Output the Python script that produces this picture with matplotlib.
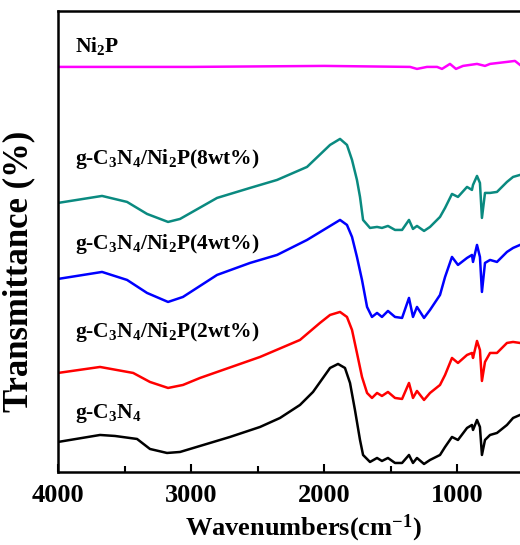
import matplotlib
matplotlib.use('Agg')
import matplotlib.pyplot as plt
from matplotlib.ticker import MultipleLocator

plt.rcParams['font.family'] = 'Liberation Serif'
plt.rcParams['font.weight'] = 'bold'
plt.rcParams['mathtext.fontset'] = 'custom'
plt.rcParams['mathtext.rm'] = 'Liberation Serif:bold'
plt.rcParams['mathtext.bf'] = 'Liberation Serif:bold'
plt.rcParams['mathtext.it'] = 'Liberation Serif:bold'
plt.rcParams['mathtext.default'] = 'rm'

# --- spectra (wavenumber, transmittance in arbitrary offset units) ---
wn_ni2p = [4000, 3000, 2000, 1355, 1303, 1228, 1152, 1115, 1055, 1010, 957, 852, 792, 754, 627, 567, 529]
t_ni2p = [405, 405, 406, 405, 403, 405, 405, 403, 408, 403, 406, 408, 406, 408, 410, 411, 407]

wn_8 = [4000, 3669, 3481, 3331, 3173, 3083, 2805, 2557, 2354, 2129, 1956, 1881, 1829, 1791, 1754,
        1731, 1708, 1656, 1603, 1566, 1521, 1468, 1415, 1363, 1333, 1303, 1250, 1205, 1130, 1092,
        1040, 995, 927, 890, 882, 852, 830, 815, 792, 754, 702, 627, 581, 529]
t_8 = [269, 276, 270, 258, 250, 253, 274, 284, 292, 305, 327, 333, 327, 312, 292,
       275, 252, 244, 245, 244, 246, 242, 242, 252, 243, 246, 241, 245, 255, 264,
       278, 275, 285, 282, 287, 296, 289, 254, 279, 279, 280, 290, 295, 297]

wn_4 = [4000, 3669, 3481, 3331, 3173, 3061, 2805, 2557, 2354, 2129, 1881, 1829, 1791, 1754, 1716,
        1678, 1641, 1603, 1566, 1521, 1468, 1415, 1363, 1333, 1303, 1250, 1205, 1130, 1092,
        1040, 995, 927, 890, 882, 852, 830, 815, 792, 754, 702, 627, 581, 529]
t_4 = [193, 200, 192, 179, 170, 175, 197, 209, 217, 232, 252, 247, 235, 215, 192,
       165, 155, 159, 155, 161, 155, 154, 174, 155, 165, 154, 162, 177, 195,
       215, 207, 214, 217, 210, 227, 215, 180, 209, 212, 210, 220, 224, 227]

wn_2 = [4000, 3684, 3435, 3309, 3173, 3061, 2933, 2482, 2182, 2032, 1956, 1881, 1829, 1791, 1754,
        1716, 1678, 1641, 1603, 1566, 1521, 1468, 1415, 1363, 1333, 1303, 1250, 1205, 1130, 1092,
        1040, 995, 927, 890, 882, 852, 830, 815, 792, 754, 702, 627, 581, 529]
t_2 = [99, 105, 99, 90, 84, 87, 94, 115, 132, 149, 157, 160, 155, 142, 119,
       95, 79, 74, 79, 76, 80, 74, 73, 89, 74, 81, 72, 79, 87, 97,
       114, 109, 117, 119, 114, 131, 122, 91, 110, 119, 119, 129, 130, 129]

wn_cn = [4000, 3684, 3572, 3406, 3309, 3181, 3083, 2933, 2708, 2482, 2332, 2182, 2084, 1956, 1896,
         1844, 1806, 1769, 1731, 1708, 1656, 1603, 1566, 1521, 1468, 1415, 1363, 1333, 1303, 1250,
         1205, 1130, 1092, 1040, 995, 927, 890, 882, 852, 830, 815, 792, 754, 702, 627, 581, 529]
t_cn = [30, 37, 36, 33, 23, 19, 20, 26, 35, 45, 54, 67, 80, 104, 108,
        104, 89, 62, 32, 17, 10, 14, 11, 14, 9, 9, 17, 9, 14, 8,
        12, 17, 25, 35, 32, 44, 47, 42, 52, 45, 17, 32, 37, 39, 47, 54, 57]

series = [
    (wn_ni2p, t_ni2p, '#FF00FF', r'Ni$_2$P', 426),
    (wn_8, t_8, '#0A8A80', r'g-C$_3$N$_4$/Ni$_2$P(8wt%)', 313),
    (wn_4, t_4, '#0000FF', r'g-C$_3$N$_4$/Ni$_2$P(4wt%)', 228),
    (wn_2, t_2, '#FF0000', r'g-C$_3$N$_4$/Ni$_2$P(2wt%)', 140),
    (wn_cn, t_cn, '#000000', r'g-C$_3$N$_4$', 58),
]

fig = plt.figure(figsize=(5.2, 5.45), dpi=100)
ax = fig.add_axes([0.1115, 0.134, 0.8885, 0.846])

for wn, t, col, lab, ytxt in series:
    ax.plot(wn, t, color=col, lw=1.8)
    ax.text(3870, ytxt, lab, fontsize=15.5, fontweight='bold', va='center', ha='left')

ax.set_xlim(4000, 529)
ax.set_ylim(0, 461)
ax.xaxis.set_major_locator(MultipleLocator(1000))
ax.xaxis.set_minor_locator(MultipleLocator(500))
ax.tick_params(axis='x', which='major', direction='in', length=6, width=1.5,
               labelsize=19, pad=9)
ax.tick_params(axis='x', which='minor', direction='in', length=4, width=1.5)
ax.set_yticks([])
for s in ['left', 'bottom', 'top']:
    ax.spines[s].set_linewidth(1.8)
ax.spines['right'].set_visible(False)

ax.set_xlabel(r'Wavenumbers(cm$^{-1}$)', fontsize=19, fontweight='bold')
ax.xaxis.set_label_coords(0.532, -0.088)
ax.set_ylabel('Transmittance (%)', fontsize=25, fontweight='bold')
ax.yaxis.set_label_coords(-0.05, 0.436)

fig.savefig('out.png', dpi=100)
